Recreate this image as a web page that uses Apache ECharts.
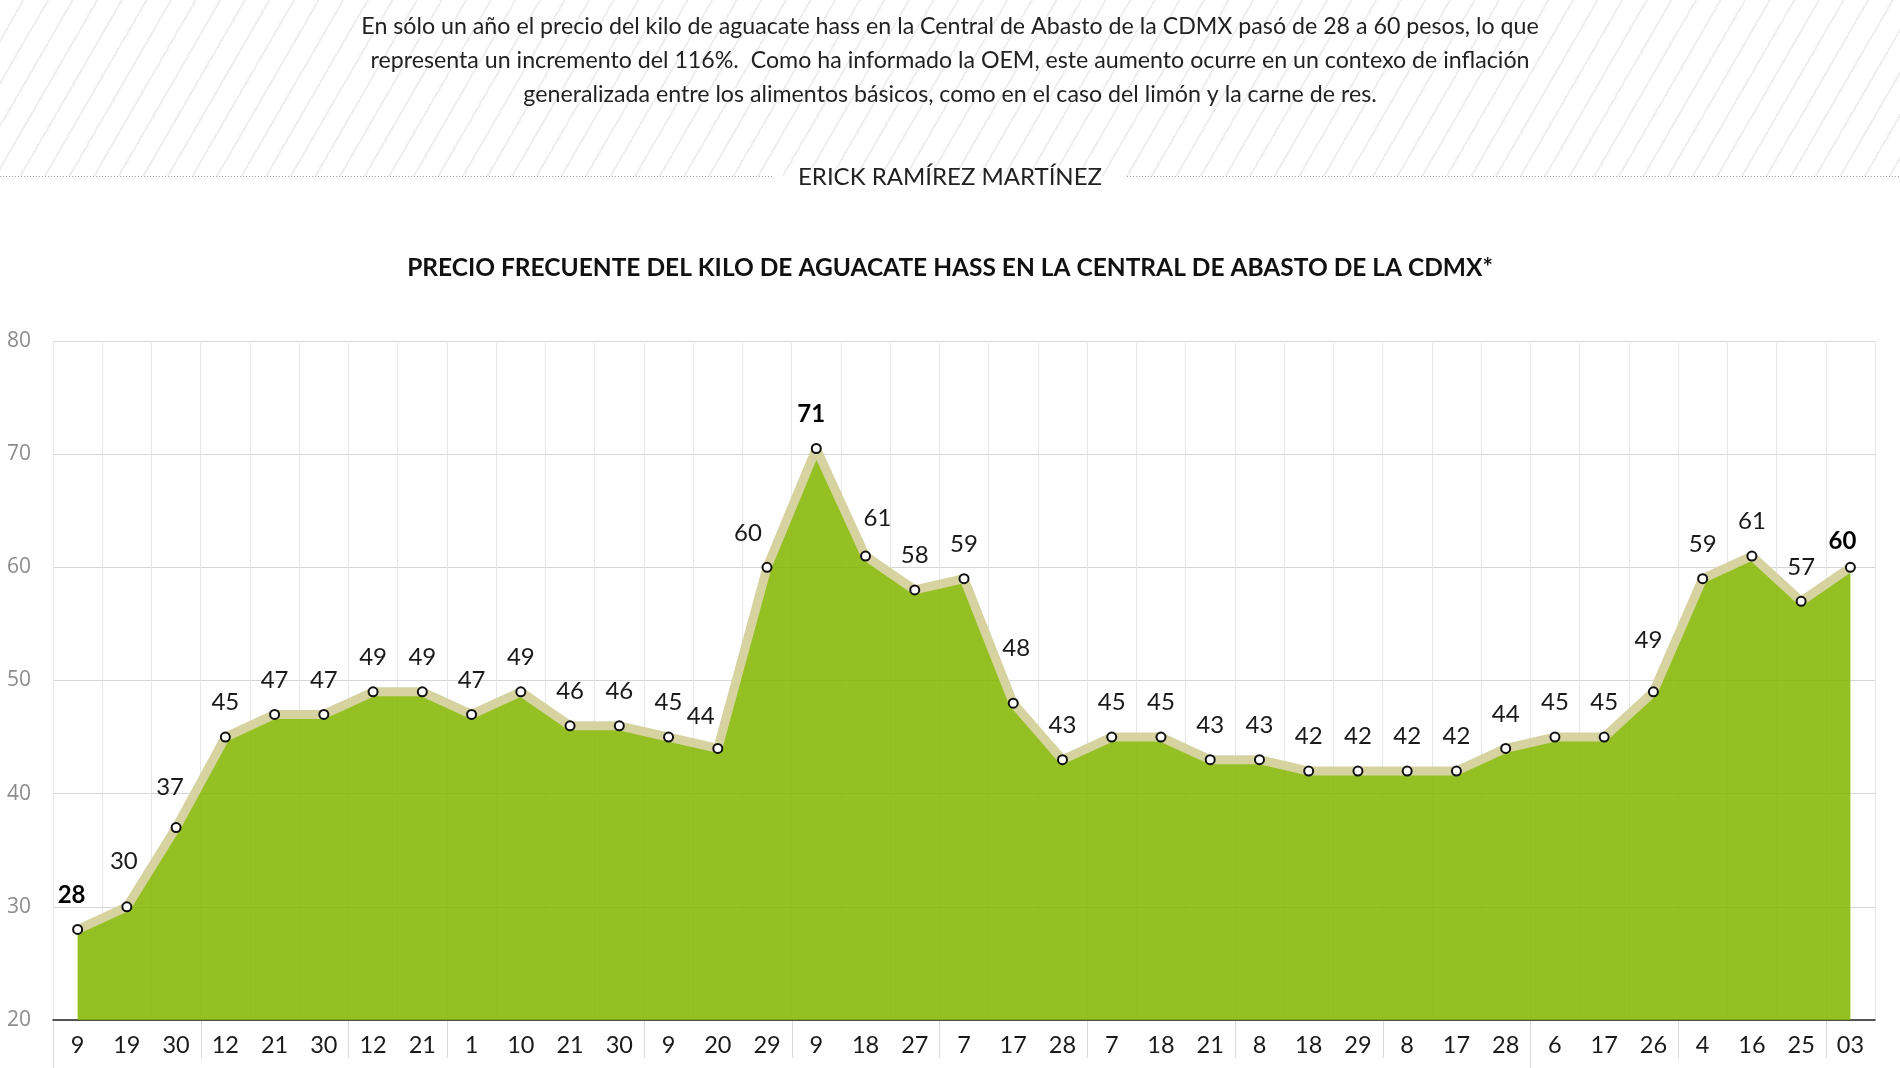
<!DOCTYPE html>
<html><head><meta charset="utf-8">
<script src="https://cdn.jsdelivr.net/npm/echarts@6/dist/echarts.min.js"></script>
<style>
html,body{margin:0;padding:0;background:#fff;}
#wrap{position:relative;width:1900px;height:1068px;overflow:hidden;}
#hatch{position:absolute;left:0;top:0;width:1900px;height:176px;background:repeating-linear-gradient(120deg,#ffffff 0px,#ffffff 19.5px,#ededed 19.5px,#ededed 21.3px);}
#chart{position:absolute;left:0;top:0;width:1900px;height:1068px;}
</style></head><body>
<div id="wrap"><div id="hatch"></div><div id="chart"></div></div>
<script>
const days = ['9','19','30','12','21','30','12','21','1','10','21','30','9','20','29','9','18','27','7','17','28','7','18','21','8','18','29','8','17','28','6','17','26','4','16','25','03'];
const prices = [28,30,37,45,47,47,49,49,47,49,46,46,45,44,60,70.5,61,58,59,48,43,45,45,43,43,42,42,42,42,44,45,45,49,59,61,57,60];
const monthStarts = [0,3,6,8,12,15,18,21,24,27,30,33,36];
const yearStarts = [0,30];
const highlighted = [0,15,36];
const yTicks = [20,30,40,50,60,70,80];
// label nudges (pixel offsets of some value labels, as placed in the original)
const labelNudges = {0: [-6, 0], 1: [-3, -11], 2: [-6, -6], 13: [-17, 2], 14: [-19, 0], 15: [-5, 0], 16: [12, -3], 19: [3, -20], 32: [-5, -17], 36: [-8, 8]};

const introText = 'En sólo un año el precio del kilo de aguacate hass en la Central de Abasto de la CDMX pasó de 28 a 60 pesos, lo que\nrepresenta un incremento del 116%.  Como ha informado la OEM, este aumento ocurre en un contexo de inflación\ngeneralizada entre los alimentos básicos, como en el caso del limón y la carne de res.';
const byline = 'ERICK RAMÍREZ MARTÍNEZ';
const chartTitle = 'PRECIO FRECUENTE DEL KILO DE AGUACATE HASS EN LA CENTRAL DE ABASTO DE LA CDMX*';

const FONT = 'Lato, "Noto Sans", sans-serif';
const chart = echarts.init(document.getElementById('chart'), null, {renderer:'canvas'});

chart.setOption({
  backgroundColor: 'transparent',
  animation: false,
  title: [
    {text: byline, left: 'center', top: 163, padding: 0,
     textStyle: {fontFamily: FONT, fontSize: 24, fontWeight: 'normal', color: '#222', lineHeight: 28}},
    {text: chartTitle, left: 'center', top: 253, padding: 0,
     textStyle: {fontFamily: FONT, fontSize: 24.5, fontWeight: 'bold', color: '#111', lineHeight: 30}}
  ],
  graphic: [
    {type: 'text', x: 950, y: 10, style: {text: introText, textAlign: 'center', textVerticalAlign: 'top',
      fontFamily: FONT, fontSize: 23.2, fill: '#222', lineHeight: 34}},
    {type: 'line', shape: {x1: 0, y1: 176.5, x2: 772, y2: 176.5}, style: {stroke: '#999', lineWidth: 1, lineDash: [1, 2]}},
    {type: 'line', shape: {x1: 1127, y1: 176.5, x2: 1900, y2: 176.5}, style: {stroke: '#999', lineWidth: 1, lineDash: [1, 2]}}
  ],
  grid: {left: 53, right: 25, top: 341, bottom: 48, containLabel: false},
  xAxis: {
    type: 'category', data: days, boundaryGap: true,
    axisLine: {show: true, lineStyle: {color: '#222', width: 1.5}},
    axisTick: {show: false},
    axisLabel: {interval: 0, margin: 13, fontFamily: FONT, fontSize: 23.5, color: '#1a1a1a'},
    splitLine: {show: true, interval: 0, lineStyle: {color: '#e6e6e6', width: 1}}
  },
  yAxis: {
    type: 'value', min: yTicks[0], max: yTicks[yTicks.length - 1], interval: 10,
    axisLine: {show: false}, axisTick: {show: false},
    axisLabel: {margin: 22, fontFamily: '"Open Sans", sans-serif', fontSize: 21, color: '#8c8c8c', verticalAlign: 'middle', padding: [0, 0, 25, 0]},
    splitLine: {show: true, lineStyle: {color: '#d6d6d6', width: 1}}
  },
  series: [
    {
      type: 'line',
      data: prices.map((v, i) => {
        const item = {value: v, label: {}};
        if (highlighted.includes(i)) { item.label.fontWeight = 'bold'; item.label.color = '#000'; }
        if (labelNudges[i]) item.label.offset = labelNudges[i];
        return item;
      }),
      symbol: 'circle', symbolSize: 9, showAllSymbol: true,
      itemStyle: {color: '#ffffff', borderColor: '#111', borderWidth: 2},
      lineStyle: {color: '#d6d3a1', width: 9},
      areaStyle: {color: '#82b600', opacity: 0.86, origin: 'start'},
      label: {show: true, position: 'top', distance: 17, fontFamily: FONT, fontSize: 24, color: '#1a1a1a',
              formatter: p => String(Math.round(p.value))},
      z: 3
    },
    {
      type: 'custom', clip: false, silent: true, z: 1,
      data: monthStarts.map(i => [i, yTicks[0], yearStarts.includes(i) ? 1 : 0]),
      renderItem: (params, api) => {
        const p = api.coord([api.value(0), api.value(1)]);
        const bw = api.size([1, 0])[0];
        const x = Math.round(p[0] - bw / 2) + 0.5;
        const len = api.value(2) ? 60 : 38;
        return {type: 'line', shape: {x1: x, y1: p[1] + 1, x2: x, y2: p[1] + len}, style: {stroke: '#d9d9d9', lineWidth: 1}};
      }
    }
  ]
});
</script>
</body></html>
